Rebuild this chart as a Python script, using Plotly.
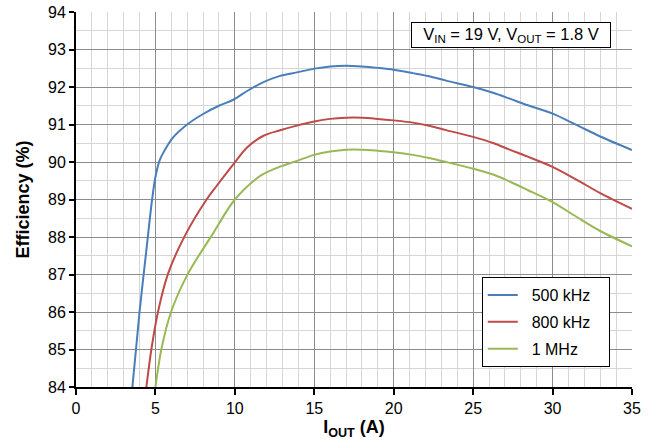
import plotly.graph_objects as go

series_names = ["500 kHz", "800 kHz", "1 MHz"]
series_colors = ["#4A7EBB", "#BE4B48", "#98B954"]

x_500k = [3.55, 4.0, 4.43, 4.79, 5.0, 5.27, 5.5, 6.1, 7.0, 8.0, 9.0, 9.9, 10.8, 11.8, 12.8,
          13.9, 15, 16, 17, 18, 19, 20, 21.2, 22.3, 23.3, 25, 26.3, 27.3, 28.4, 30, 31.5, 33, 35]
y_500k = [84, 86, 87.65, 89.0, 89.6, 90.05, 90.25, 90.65, 91.0, 91.28, 91.5, 91.66, 91.9, 92.13, 92.29,
          92.39, 92.49, 92.55, 92.57, 92.55, 92.51, 92.46, 92.37, 92.28, 92.17, 92.0, 91.84, 91.69, 91.52,
          91.29, 90.99, 90.68, 90.32]

x_800k = [4.43, 4.75, 5.17, 5.8, 6.85, 8.22, 8.85, 10.0, 10.75, 11.8, 12.8, 13.9, 15, 16, 17, 18, 19,
          20, 21.2, 22.3, 23.3, 25, 26.3, 27.3, 28.4, 30, 31.5, 33, 35]
y_800k = [84, 85.02, 86.02, 87.03, 88.03, 89.0, 89.36, 89.99, 90.38, 90.7, 90.84, 90.97, 91.08, 91.15,
          91.18, 91.18, 91.15, 91.11, 91.05, 90.96, 90.85, 90.67, 90.5, 90.33, 90.15, 89.87, 89.53, 89.17,
          88.75]

x_1m = [5.0, 5.38, 6.0, 7.06, 8.53, 10.0, 11.6, 12.8, 13.9, 15, 16, 17, 18, 19, 20, 21.2, 22.3, 23.3,
        25, 26.3, 27.3, 28.4, 30, 31.5, 33, 35]
y_1m = [84, 85.02, 86.02, 87.03, 88.03, 89.0, 89.63, 89.87, 90.03, 90.19, 90.28, 90.33, 90.33, 90.3,
        90.26, 90.19, 90.1, 90.0, 89.82, 89.66, 89.48, 89.26, 88.93, 88.54, 88.16, 87.75]

x_ticks = [0, 5, 10, 15, 20, 25, 30, 35]
y_ticks = [84, 85, 86, 87, 88, 89, 90, 91, 92, 93, 94]

FONT = "Liberation Sans, Arial, sans-serif"
NB = "\u00a0"

fig = go.Figure()
for name, color, xs, ys in zip(series_names, series_colors,
                               [x_500k, x_800k, x_1m], [y_500k, y_800k, y_1m]):
    fig.add_trace(go.Scatter(x=xs, y=ys, mode="lines", name=NB * 2 + name + NB * 3, legendgroup=name,
                             line=dict(color=color, width=2, shape="spline", smoothing=0.9)))

fig.update_layout(
    width=649, height=445,
    margin=dict(l=76, r=17, t=12, b=58),
    paper_bgcolor="white", plot_bgcolor="white",
    font=dict(family=FONT, size=16, color="black"),
    showlegend=True,
    legend=dict(x=0.960, y=0.293, xanchor="right", yanchor="top",
                bgcolor="white", bordercolor="black", borderwidth=1,
                font=dict(size=16), tracegroupgap=3, itemwidth=30),
    annotations=[dict(
        text=NB * 2 + "V<sub>IN</sub> = 19 V, V<sub>OUT</sub> = 1.8 V" + NB * 2,
        xref="paper", yref="paper", x=0.783, y=0.939,
        xanchor="center", yanchor="middle", showarrow=False,
        font=dict(size=16.5, family=FONT), bgcolor="white",
        bordercolor="black", borderwidth=1, borderpad=2)],
)

fig.update_xaxes(
    range=[0, 35], tickvals=x_ticks, ticks="outside", ticklen=6, tickwidth=1.5, tickcolor="black",
    showline=True, linecolor="black", linewidth=2, zeroline=False, automargin=False,
    showgrid=True, gridcolor="#8C8C8C", gridwidth=1,
    minor=dict(dtick=1, showgrid=True, gridcolor="#D6D6D6", gridwidth=1),
    title=dict(text="<b>I<sub>OUT</sub> (A)</b>", font=dict(size=18), standoff=4),
    tickfont=dict(size=16),
)
fig.update_yaxes(
    range=[84, 94], tickvals=y_ticks, ticks="outside", ticklen=5, tickwidth=1.5, tickcolor="black",
    showline=True, linecolor="black", linewidth=2, zeroline=False, automargin=False,
    showgrid=True, gridcolor="#8C8C8C", gridwidth=1,
    minor=dict(dtick=0.5, showgrid=True, gridcolor="#D6D6D6", gridwidth=1),
    title=dict(text="<b>Efficiency (%)</b>", font=dict(size=18), standoff=14),
    tickfont=dict(size=16),
)

fig.write_html("out.html", config={"displayModeBar": False},
               post_script="document.body.style.margin='0';")
